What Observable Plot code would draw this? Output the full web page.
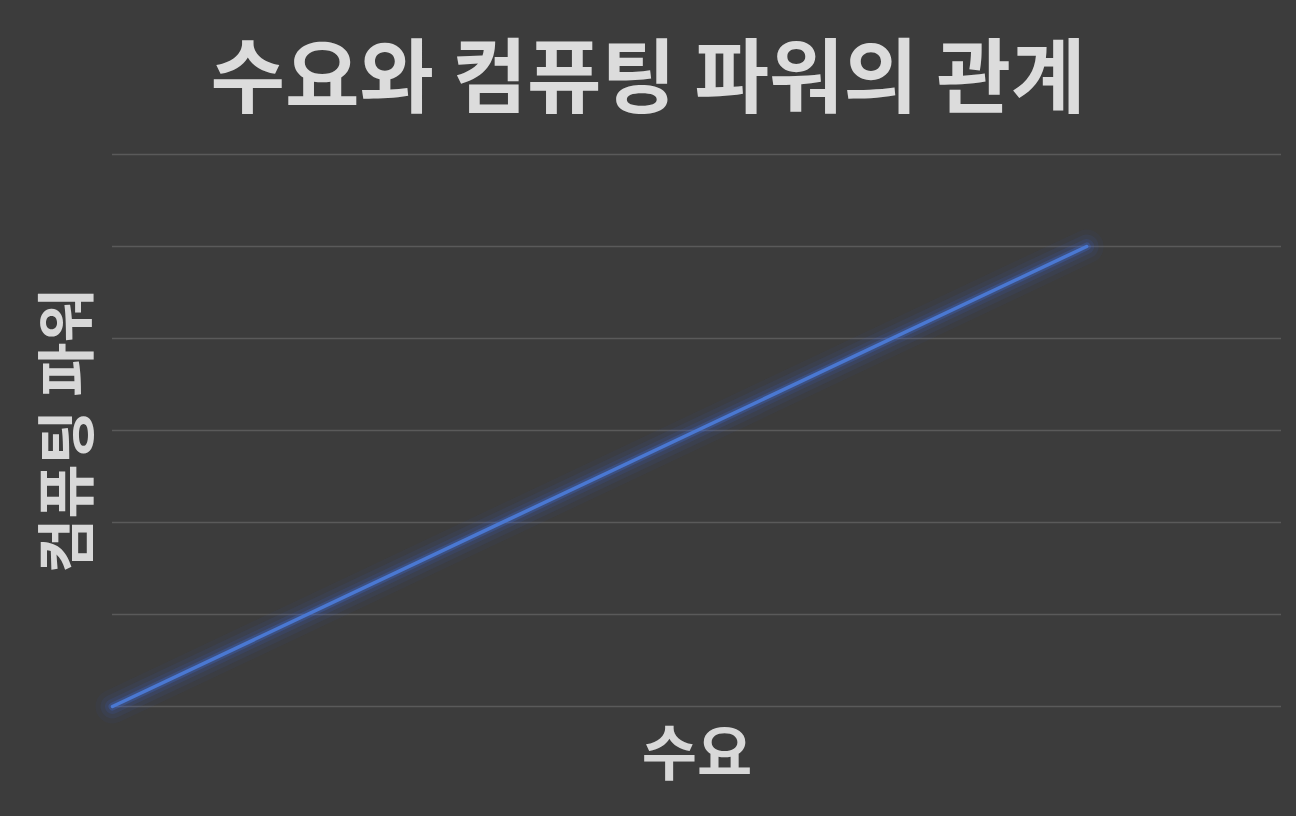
<!DOCTYPE html>
<html>
<head>
<meta charset="utf-8">
<script src="https://cdn.jsdelivr.net/npm/d3@7"></script>
<script src="https://cdn.jsdelivr.net/npm/@observablehq/plot@0.6"></script>
<style>
  html, body { margin: 0; padding: 0; background: #3c3c3c; width: 1296px; height: 816px; overflow: hidden; }
  #title { height: 130px; line-height: 142px; text-align: center; color: #dcdcdc;
           font-family: "Noto Sans CJK KR", sans-serif; font-weight: 700; font-size: 81px; margin: 0; }
  #chart svg { display: block; }
</style>
</head>
<body>
<div id="title">수요와 컴퓨팅 파워의 관계</div>
<div id="chart"></div>
<script>
const titleText = "수요와 컴퓨팅 파워의 관계";
const xLabel = "수요";
const yLabel = "컴퓨팅 파워";
const demand = [0, 10];
const computingPower = [0, 5];
const yGridTicks = [0, 1, 2, 3, 4, 5, 6];
const xDomain = [0, 12];
const yDomain = [0, 6];

const data = demand.map((d, i) => ({x: d, y: computingPower[i]}));
const font = "'Noto Sans CJK KR', sans-serif";

const chart = Plot.plot({
  width: 1296,
  height: 686,
  marginTop: 24,
  marginBottom: 110,
  marginLeft: 112,
  marginRight: 15,
  x: {domain: xDomain, axis: null},
  y: {domain: yDomain, axis: null},
  style: {background: "#3c3c3c", fontFamily: font},
  marks: [
    Plot.gridY(yGridTicks, {stroke: "#5a5a5a", strokeOpacity: 1, strokeWidth: 1.5}),
    Plot.line(data, {x: "x", y: "y", stroke: "#3a68d8", strokeWidth: 34, strokeOpacity: 0.05, strokeLinecap: "round"}),
    Plot.line(data, {x: "x", y: "y", stroke: "#3a68d8", strokeWidth: 24, strokeOpacity: 0.08, strokeLinecap: "round"}),
    Plot.line(data, {x: "x", y: "y", stroke: "#3a68d8", strokeWidth: 15, strokeOpacity: 0.13, strokeLinecap: "round"}),
    Plot.line(data, {x: "x", y: "y", stroke: "#3f6fe0", strokeWidth: 8, strokeOpacity: 0.25, strokeLinecap: "round"}),
    Plot.line(data, {x: "x", y: "y", stroke: "#4a78d2", strokeWidth: 3.5}),
    Plot.text([xLabel], {frameAnchor: "bottom", dy: 49, lineAnchor: "middle", text: d => d,
      fontSize: 60, fontWeight: 700, fill: "#d8d8d8", fontFamily: font}),
    Plot.text([yLabel], {frameAnchor: "left", dx: -43, rotate: -90, textAnchor: "middle", lineAnchor: "middle", text: d => d,
      fontSize: 59, fontWeight: 700, fill: "#d8d8d8", fontFamily: font})
  ]
});
document.getElementById("chart").appendChild(chart);
</script>
</body>
</html>
